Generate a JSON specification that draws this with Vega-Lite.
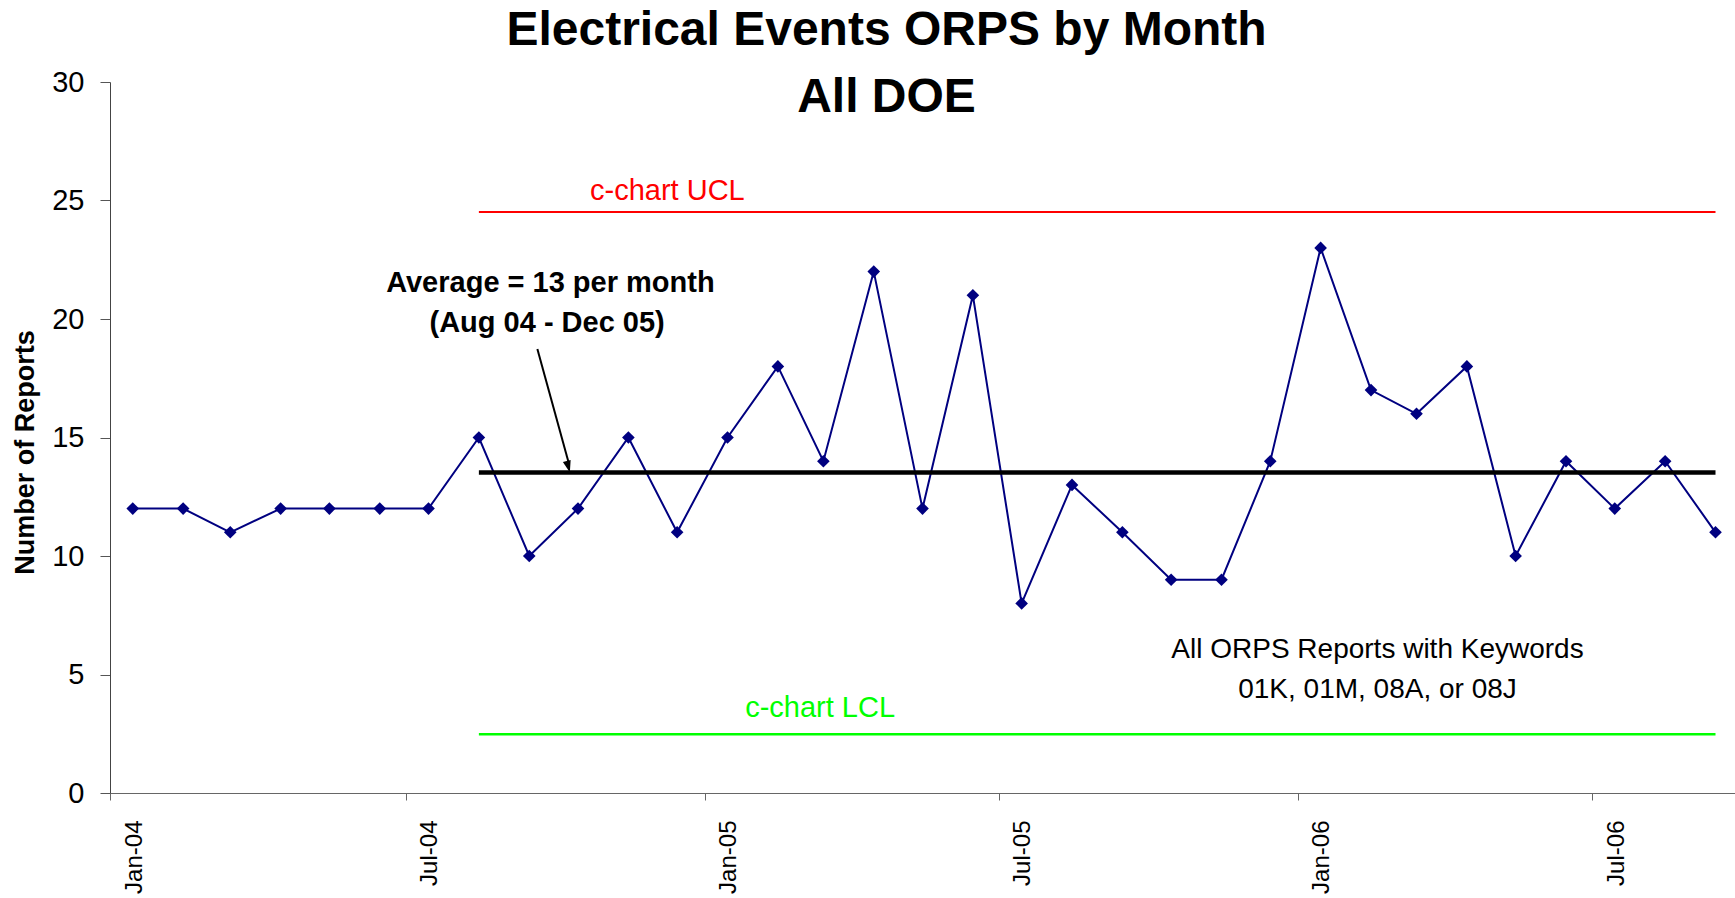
{
  "$schema": "https://vega.github.io/schema/vega-lite/v6.json",
  "width": 1625,
  "height": 711,
  "autosize": {"type": "none"},
  "padding": {"left": 110, "top": 82, "right": 0, "bottom": 105},
  "background": "white",
  "config": {"font": "Liberation Sans", "view": {"stroke": null}},
  "title": {
    "text": ["Electrical Events ORPS by Month", "All DOE"],
    "fontSize": 48,
    "fontWeight": "bold",
    "lineHeight": 67,
    "anchor": "middle",
    "frame": "group",
    "dx": -36,
    "offset": -54,
    "color": "black",
    "font": "Liberation Sans"
  },
  "datasets": {
    "reports": [
      {"month": "2004-01-15", "reports": 12},
      {"month": "2004-02-15", "reports": 12},
      {"month": "2004-03-15", "reports": 11},
      {"month": "2004-04-15", "reports": 12},
      {"month": "2004-05-15", "reports": 12},
      {"month": "2004-06-15", "reports": 12},
      {"month": "2004-07-15", "reports": 12},
      {"month": "2004-08-15", "reports": 15},
      {"month": "2004-09-15", "reports": 10},
      {"month": "2004-10-15", "reports": 12},
      {"month": "2004-11-15", "reports": 15},
      {"month": "2004-12-15", "reports": 11},
      {"month": "2005-01-15", "reports": 15},
      {"month": "2005-02-15", "reports": 18},
      {"month": "2005-03-15", "reports": 14},
      {"month": "2005-04-15", "reports": 22},
      {"month": "2005-05-15", "reports": 12},
      {"month": "2005-06-15", "reports": 21},
      {"month": "2005-07-15", "reports": 8},
      {"month": "2005-08-15", "reports": 13},
      {"month": "2005-09-15", "reports": 11},
      {"month": "2005-10-15", "reports": 9},
      {"month": "2005-11-15", "reports": 9},
      {"month": "2005-12-15", "reports": 14},
      {"month": "2006-01-15", "reports": 23},
      {"month": "2006-02-15", "reports": 17},
      {"month": "2006-03-15", "reports": 16},
      {"month": "2006-04-15", "reports": 18},
      {"month": "2006-05-15", "reports": 10},
      {"month": "2006-06-15", "reports": 14},
      {"month": "2006-07-15", "reports": 12},
      {"month": "2006-08-15", "reports": 14},
      {"month": "2006-09-15", "reports": 11}
    ],
    "limits": [
      {"start": "2004-08-15", "end": "2006-09-15", "ucl": 24.52, "avg": 13.52, "lcl": 2.48}
    ],
    "single": [{}]
  },
  "layer": [
    {
      "data": {"name": "reports"},
      "mark": {"type": "line", "color": "#000080", "strokeWidth": 2},
      "encoding": {
        "x": {
          "field": "month",
          "type": "temporal",
          "scale": {
            "type": "utc",
            "domain": [
              {"year": 2004, "month": 1, "date": 1, "utc": true},
              {"year": 2006, "month": 9, "date": 27, "utc": true}
            ]
          },
          "axis": {
            "title": null,
            "grid": false,
            "values": [
              {"year": 2004, "month": 1, "date": 1, "utc": true},
              {"year": 2004, "month": 7, "date": 1, "utc": true},
              {"year": 2005, "month": 1, "date": 1, "utc": true},
              {"year": 2005, "month": 7, "date": 1, "utc": true},
              {"year": 2006, "month": 1, "date": 1, "utc": true},
              {"year": 2006, "month": 7, "date": 1, "utc": true}
            ],
            "labelExpr": "utcFormat(datum.value, '%b-%y')",
            "labelAngle": -90,
            "labelFontSize": 24,
            "labelOffset": 24,
            "labelColor": "black",
            "labelPadding": 20,
            "tickSize": 7,
            "tickColor": "#666666",
            "domainColor": "#666666",
            "labelFont": "Liberation Sans"
          }
        },
        "y": {
          "field": "reports",
          "type": "quantitative",
          "scale": {"domain": [0, 30], "nice": false},
          "axis": {
            "title": "Number of Reports",
            "titleFontSize": 27,
            "titleFontWeight": "bold",
            "titleColor": "black",
            "titlePadding": 12,
            "titleY": 370,
            "titleFont": "Liberation Sans",
            "grid": false,
            "values": [0, 5, 10, 15, 20, 25, 30],
            "labelFontSize": 29,
            "labelColor": "black",
            "labelPadding": 16,
            "tickSize": 10,
            "tickColor": "#555555",
            "domainColor": "#444444",
            "labelFont": "Liberation Sans"
          }
        }
      }
    },
    {
      "data": {"name": "limits"},
      "mark": {"type": "rule", "color": "#FF0000", "strokeWidth": 2},
      "encoding": {
        "x": {"field": "start", "type": "temporal"},
        "x2": {"field": "end"},
        "y": {"field": "ucl", "type": "quantitative"}
      }
    },
    {
      "data": {"name": "limits"},
      "mark": {"type": "rule", "color": "#00FF00", "strokeWidth": 2.5},
      "encoding": {
        "x": {"field": "start", "type": "temporal"},
        "x2": {"field": "end"},
        "y": {"field": "lcl", "type": "quantitative"}
      }
    },
    {
      "data": {"name": "limits"},
      "mark": {"type": "rule", "color": "#000000", "strokeWidth": 4.5},
      "encoding": {
        "x": {"field": "start", "type": "temporal"},
        "x2": {"field": "end"},
        "y": {"field": "avg", "type": "quantitative"}
      }
    },
    {
      "data": {"name": "reports"},
      "mark": {"type": "point", "shape": "diamond", "filled": true, "size": 160, "color": "#000080", "opacity": 1},
      "encoding": {
        "x": {"field": "month", "type": "temporal"},
        "y": {"field": "reports", "type": "quantitative"}
      }
    },
    {
      "data": {"name": "single"},
      "mark": {"type": "rule", "color": "black", "strokeWidth": 2},
      "encoding": {
        "x": {"datum": {"year": 2004, "month": 9, "date": 20, "utc": true}, "type": "temporal"},
        "y": {"datum": 18.73, "type": "quantitative"},
        "x2": {"datum": {"year": 2004, "month": 10, "date": 9, "utc": true}},
        "y2": {"datum": 14.0}
      }
    },
    {
      "data": {"name": "single"},
      "mark": {"type": "point", "shape": "M0,0L-0.67,-2L0.67,-2Z", "filled": true, "size": 144, "color": "black", "opacity": 1, "angle": -15},
      "encoding": {
        "x": {"datum": {"year": 2004, "month": 10, "date": 10, "utc": true}, "type": "temporal"},
        "y": {"datum": 13.52, "type": "quantitative"}
      }
    },
    {
      "data": {"name": "single"},
      "mark": {"type": "text", "fontSize": 29, "color": "#FF0000", "align": "center", "baseline": "alphabetic"},
      "encoding": {
        "x": {"datum": {"year": 2004, "month": 12, "date": 9, "utc": true}, "type": "temporal"},
        "y": {"datum": 25.02, "type": "quantitative"},
        "text": {"value": "c-chart UCL"}
      }
    },
    {
      "data": {"name": "single"},
      "mark": {"type": "text", "fontSize": 29, "color": "#00FF00", "align": "center", "baseline": "alphabetic"},
      "encoding": {
        "x": {"datum": {"year": 2005, "month": 3, "date": 13, "utc": true}, "type": "temporal"},
        "y": {"datum": 3.21, "type": "quantitative"},
        "text": {"value": "c-chart LCL"}
      }
    },
    {
      "data": {"name": "single"},
      "mark": {"type": "text", "fontSize": 29, "fontWeight": "bold", "color": "black", "align": "center", "baseline": "alphabetic"},
      "encoding": {
        "x": {"datum": {"year": 2004, "month": 9, "date": 28, "utc": true}, "type": "temporal"},
        "y": {"datum": 21.14, "type": "quantitative"},
        "text": {"value": "Average = 13 per month"}
      }
    },
    {
      "data": {"name": "single"},
      "mark": {"type": "text", "fontSize": 29, "fontWeight": "bold", "color": "black", "align": "center", "baseline": "alphabetic"},
      "encoding": {
        "x": {"datum": {"year": 2004, "month": 9, "date": 26, "utc": true}, "type": "temporal"},
        "y": {"datum": 19.45, "type": "quantitative"},
        "text": {"value": "(Aug 04 - Dec 05)"}
      }
    },
    {
      "data": {"name": "single"},
      "mark": {"type": "text", "fontSize": 28, "color": "black", "align": "center", "baseline": "alphabetic"},
      "encoding": {
        "x": {"datum": {"year": 2006, "month": 2, "date": 19, "utc": true}, "type": "temporal"},
        "y": {"datum": 5.7, "type": "quantitative"},
        "text": {"value": "All ORPS Reports with Keywords"}
      }
    },
    {
      "data": {"name": "single"},
      "mark": {"type": "text", "fontSize": 28, "color": "black", "align": "center", "baseline": "alphabetic"},
      "encoding": {
        "x": {"datum": {"year": 2006, "month": 2, "date": 19, "utc": true}, "type": "temporal"},
        "y": {"datum": 4.0, "type": "quantitative"},
        "text": {"value": "01K, 01M, 08A, or 08J"}
      }
    }
  ]
}
